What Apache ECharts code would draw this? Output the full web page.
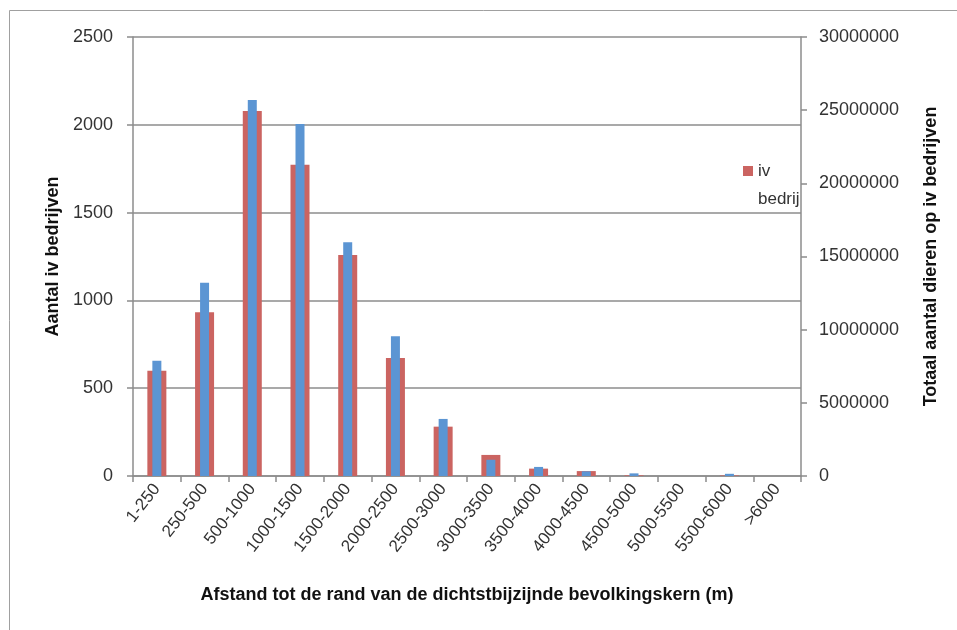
<!DOCTYPE html>
<html>
<head>
<meta charset="utf-8">
<script src="https://cdn.jsdelivr.net/npm/echarts@6/dist/echarts.min.js"></script>
<style>html,body{margin:0;padding:0;background:#fff;}#c{width:957px;height:630px;}</style>
</head>
<body>
<div id="c"></div>
<script>
var categories = ['1-250','250-500','500-1000','1000-1500','1500-2000','2000-2500','2500-3000','3000-3500','3500-4000','4000-4500','4500-5000','5000-5500','5500-6000','>6000'];
var aantalBedrijven = [600, 932, 2078, 1773, 1259, 672, 281, 120, 42, 28, 4, 0, 3, 0];
var totaalDieren = [7880000, 13200000, 25700000, 24050000, 15970000, 9550000, 3900000, 1110000, 620000, 320000, 180000, 0, 150000, 0];
var leftTicks = [0, 2500, 500];
var rightTicks = [0, 30000000, 5000000];

var FONT = 'Liberation Sans';
var plain = function (v) { return String(v); };
var chart = echarts.init(document.getElementById('c'));
chart.setOption({
  backgroundColor: '#fff',
  animation: false,
  textStyle: {fontFamily: FONT},
  graphic: [{
    type: 'rect', left: 7, top: 8, silent: true,
    shape: {width: 1000, height: 700},
    style: {fill: 'none', stroke: '#a0a0a0', lineWidth: 1}
  }],
  grid: {left: 133, right: 156, top: 37, bottom: 154},
  legend: {
    data: ['Aantal iv bedrijven'],
    left: 738, top: 152,
    itemWidth: 10, itemHeight: 38, itemGap: 5,
    icon: 'path://M0,0L10,0L10,10L0,10Z M0,37.99L0.001,37.99L0.001,38L0,38Z',
    formatter: function () { return 'iv\nbedrij'; },
    textStyle: {fontSize: 17, color: '#333', lineHeight: 28, fontFamily: FONT}
  },
  xAxis: [{
    type: 'category', data: categories, position: 'bottom',
    axisLine: {lineStyle: {color: '#8c8c8c', width: 1.5}},
    axisTick: {show: true, length: 6, lineStyle: {color: '#8c8c8c', width: 1.5}},
    axisLabel: {rotate: 52, color: '#333', fontSize: 17, margin: 10, interval: 0},
    name: 'Afstand tot de rand van de dichtstbijzijnde bevolkingskern (m)',
    nameLocation: 'middle', nameGap: 110,
    nameTextStyle: {fontSize: 18, fontWeight: 'bold', color: '#111'}
  }, {
    type: 'category', data: categories, position: 'bottom', show: false
  }],
  yAxis: [{
    type: 'value', min: leftTicks[0], max: leftTicks[1], interval: leftTicks[2],
    name: 'Aantal iv bedrijven', nameLocation: 'middle', nameGap: 69,
    nameTextStyle: {fontSize: 18, fontWeight: 'bold', color: '#111'},
    axisLine: {show: true, lineStyle: {color: '#8c8c8c', width: 1.5}},
    axisTick: {show: true, length: 6, lineStyle: {color: '#8c8c8c', width: 1.5}},
    axisLabel: {color: '#333', fontSize: 18, margin: 20, formatter: plain},
    splitLine: {show: true, lineStyle: {color: '#8c8c8c', width: 1.5}}
  }, {
    type: 'value', min: rightTicks[0], max: rightTicks[1], interval: rightTicks[2],
    position: 'right',
    name: 'Totaal aantal dieren op iv bedrijven', nameLocation: 'middle', nameGap: 121,
    nameRotate: 90,
    nameTextStyle: {fontSize: 18, fontWeight: 'bold', color: '#111'},
    axisLine: {show: true, lineStyle: {color: '#8c8c8c', width: 1.5}},
    axisTick: {show: true, length: 6, lineStyle: {color: '#8c8c8c', width: 1.5}},
    axisLabel: {color: '#333', fontSize: 18, margin: 18, formatter: plain},
    splitLine: {show: false}
  }],
  series: [{
    name: 'Aantal iv bedrijven', type: 'bar', data: aantalBedrijven,
    xAxisIndex: 0, yAxisIndex: 0, barWidth: 19,
    itemStyle: {color: '#CB6461'}
  }, {
    name: 'Totaal aantal dieren op iv bedrijven', type: 'bar', data: totaalDieren,
    xAxisIndex: 1, yAxisIndex: 1, barWidth: 9,
    itemStyle: {color: '#5B95D3'}
  }]
});
</script>
</body>
</html>
